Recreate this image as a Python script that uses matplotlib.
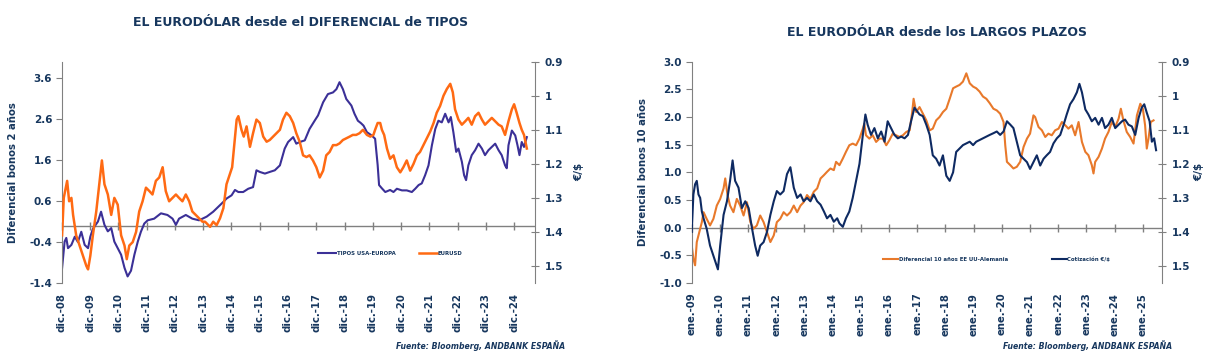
import matplotlib
matplotlib.use("Agg")
import matplotlib.pyplot as plt

plt.rcParams['font.family'] = ['DejaVu Sans']

NAVY = '#17375E'
GRAY = '#808080'

# ---------------- Chart 1 data (decimal years) ----------------
tipos_t = [2008.92, 2009.01, 2009.07, 2009.13, 2009.25, 2009.37, 2009.48, 2009.60, 2009.72, 2009.84,
           2009.92, 2010.01, 2010.19, 2010.30, 2010.42, 2010.54, 2010.66, 2010.77, 2010.89, 2011.01,
           2011.13, 2011.24, 2011.36, 2011.48, 2011.60, 2011.71, 2011.83, 2011.95, 2012.18, 2012.42,
           2012.65, 2012.83, 2012.95, 2013.06, 2013.30, 2013.53, 2013.77, 2014.04, 2014.27, 2014.45,
           2014.63, 2014.74, 2014.92, 2015.04, 2015.16, 2015.33, 2015.51, 2015.68, 2015.80, 2015.92,
           2016.10, 2016.27, 2016.45, 2016.63, 2016.80, 2016.92, 2017.10, 2017.21, 2017.33, 2017.51,
           2017.68, 2017.86, 2017.98, 2018.16, 2018.33, 2018.51, 2018.63, 2018.74, 2018.86, 2018.98,
           2019.16, 2019.27, 2019.39, 2019.50, 2019.59, 2019.71, 2019.88, 2020.00, 2020.09, 2020.14,
           2020.24, 2020.36, 2020.53, 2020.65, 2020.77, 2020.95, 2021.12, 2021.30, 2021.42, 2021.54,
           2021.65, 2021.77, 2021.89, 2022.01, 2022.13, 2022.24, 2022.36, 2022.48, 2022.60, 2022.68,
           2022.77, 2022.87, 2022.95, 2023.07, 2023.15, 2023.22, 2023.30, 2023.42, 2023.54, 2023.66,
           2023.78, 2023.89, 2024.01, 2024.13, 2024.25, 2024.37, 2024.48, 2024.60, 2024.66, 2024.72,
           2024.84, 2024.96, 2025.04, 2025.11, 2025.19, 2025.27, 2025.37]
tipos_v = [-1.04, -0.39, -0.30, -0.55, -0.47, -0.27, -0.40, -0.15, -0.47, -0.55,
           -0.27, -0.08, 0.10, 0.34, 0.02, -0.14, -0.06, -0.39, -0.55, -0.71,
           -1.03, -1.24, -1.10, -0.71, -0.39, -0.15, 0.05, 0.13, 0.17, 0.30,
           0.26, 0.17, 0.02, 0.17, 0.26, 0.17, 0.13, 0.22, 0.34, 0.46,
           0.58, 0.66, 0.74, 0.87, 0.82, 0.82, 0.90, 0.94, 1.35, 1.31,
           1.27, 1.31, 1.35, 1.47, 1.88, 2.04, 2.16, 2.00, 2.04, 2.08,
           2.36, 2.56, 2.69, 3.01, 3.21, 3.25, 3.33, 3.50, 3.33, 3.09,
           2.93, 2.73, 2.56, 2.50, 2.44, 2.28, 2.20, 2.12, 1.48, 0.99,
           0.91, 0.82, 0.87, 0.82, 0.90, 0.86, 0.86, 0.82, 0.90, 0.99,
           1.03, 1.23, 1.47, 1.96, 2.36, 2.56, 2.52, 2.73, 2.52, 2.65,
           2.28, 1.80, 1.88, 1.56, 1.23, 1.11, 1.47, 1.72, 1.84, 2.00,
           1.88, 1.72, 1.84, 1.92, 2.00, 1.84, 1.72, 1.47, 1.40, 1.96,
           2.32, 2.20, 1.96, 1.72, 2.04, 1.92, 2.16]

eurusd1_t = [2008.92, 2008.98, 2009.10, 2009.17, 2009.25, 2009.31, 2009.42, 2009.54, 2009.66, 2009.78,
             2009.84, 2009.92, 2010.01, 2010.13, 2010.25, 2010.33, 2010.42, 2010.54, 2010.66, 2010.77,
             2010.89, 2011.01, 2011.13, 2011.21, 2011.30, 2011.42, 2011.54, 2011.65, 2011.77, 2011.89,
             2012.01, 2012.12, 2012.24, 2012.36, 2012.48, 2012.59, 2012.71, 2012.83, 2012.95, 2013.06,
             2013.18, 2013.30, 2013.42, 2013.53, 2013.65, 2013.77, 2013.89, 2013.98, 2014.16, 2014.27,
             2014.39, 2014.51, 2014.63, 2014.74, 2014.86, 2014.94, 2015.01, 2015.10, 2015.16, 2015.27,
             2015.35, 2015.45, 2015.57, 2015.68, 2015.80, 2015.92, 2016.04, 2016.16, 2016.27, 2016.39,
             2016.51, 2016.63, 2016.74, 2016.86, 2016.98, 2017.10, 2017.21, 2017.33, 2017.45, 2017.57,
             2017.68, 2017.80, 2017.92, 2018.04, 2018.16, 2018.27, 2018.39, 2018.51, 2018.63, 2018.74,
             2018.86, 2018.98, 2019.10, 2019.21, 2019.33, 2019.45, 2019.57, 2019.71, 2019.83, 2019.94,
             2020.00, 2020.09, 2020.18, 2020.24, 2020.32, 2020.42, 2020.53, 2020.65, 2020.77, 2020.89,
             2021.00, 2021.12, 2021.24, 2021.36, 2021.48, 2021.59, 2021.71, 2021.83, 2021.95, 2022.07,
             2022.18, 2022.30, 2022.42, 2022.54, 2022.66, 2022.75, 2022.83, 2022.95, 2023.07, 2023.19,
             2023.30, 2023.42, 2023.54, 2023.66, 2023.78, 2023.89, 2024.01, 2024.13, 2024.25, 2024.37,
             2024.48, 2024.60, 2024.72, 2024.84, 2024.92, 2025.01, 2025.11, 2025.19, 2025.27, 2025.37]
eurusd1_v = [1.41, 1.30, 1.25, 1.31, 1.30, 1.35, 1.41, 1.44, 1.47, 1.50,
             1.51, 1.47, 1.41, 1.34, 1.25, 1.19, 1.26, 1.29, 1.35, 1.30,
             1.32, 1.41, 1.44, 1.48, 1.44, 1.43, 1.40, 1.34, 1.31, 1.27,
             1.28, 1.29, 1.25, 1.24, 1.21, 1.28, 1.31, 1.30, 1.29, 1.30,
             1.31, 1.29, 1.31, 1.34, 1.35, 1.36, 1.37, 1.37, 1.385, 1.37,
             1.38, 1.36, 1.33, 1.26, 1.23, 1.21, 1.15, 1.07, 1.06, 1.10,
             1.12, 1.09, 1.15, 1.11, 1.07, 1.08, 1.12, 1.135, 1.13, 1.12,
             1.11, 1.10, 1.07, 1.05, 1.06, 1.08, 1.11, 1.135, 1.175, 1.18,
             1.175, 1.19, 1.21, 1.24, 1.22, 1.175, 1.165, 1.145, 1.145, 1.14,
             1.13, 1.125, 1.12, 1.115, 1.115, 1.11, 1.10, 1.115, 1.12, 1.115,
             1.10, 1.08, 1.08, 1.10, 1.115, 1.155, 1.185, 1.175, 1.21, 1.225,
             1.21, 1.19, 1.22, 1.20, 1.175, 1.165, 1.145, 1.125, 1.105, 1.08,
             1.05, 1.03, 1.00, 0.98, 0.965, 0.99, 1.04, 1.07, 1.085, 1.075,
             1.065, 1.085, 1.06, 1.05, 1.07, 1.085, 1.075, 1.065, 1.075, 1.085,
             1.09, 1.115, 1.075, 1.04, 1.025, 1.05, 1.08, 1.10, 1.115, 1.155]

# ---------------- Chart 2 data (decimal years) ----------------
dif10_t = [2009.00, 2009.06, 2009.12, 2009.18, 2009.30, 2009.36, 2009.42, 2009.53, 2009.65, 2009.77,
           2009.89, 2010.01, 2010.13, 2010.19, 2010.27, 2010.36, 2010.48, 2010.60, 2010.72, 2010.84,
           2010.96, 2011.08, 2011.19, 2011.31, 2011.43, 2011.55, 2011.67, 2011.79, 2011.91, 2012.02,
           2012.14, 2012.26, 2012.38, 2012.50, 2012.62, 2012.74, 2012.86, 2012.97, 2013.09, 2013.21,
           2013.33, 2013.45, 2013.57, 2013.69, 2013.80, 2013.92, 2014.04, 2014.12, 2014.24, 2014.36,
           2014.47, 2014.59, 2014.71, 2014.83, 2014.95, 2015.07, 2015.12, 2015.18, 2015.30, 2015.42,
           2015.54, 2015.66, 2015.78, 2015.90, 2016.01, 2016.13, 2016.25, 2016.37, 2016.49, 2016.61,
           2016.73, 2016.82, 2016.87, 2016.96, 2017.08, 2017.20, 2017.32, 2017.44, 2017.55, 2017.67,
           2017.79, 2017.91, 2018.03, 2018.15, 2018.27, 2018.38, 2018.50, 2018.62, 2018.74, 2018.86,
           2018.98, 2019.09, 2019.21, 2019.33, 2019.45, 2019.57, 2019.70, 2019.82, 2019.94, 2020.06,
           2020.12, 2020.18, 2020.30, 2020.41, 2020.53, 2020.65, 2020.77, 2020.89, 2021.00, 2021.12,
           2021.18, 2021.30, 2021.42, 2021.54, 2021.65, 2021.77, 2021.89, 2022.01, 2022.13, 2022.25,
           2022.36, 2022.48, 2022.60, 2022.72, 2022.84, 2022.96, 2023.07, 2023.19, 2023.25, 2023.31,
           2023.43, 2023.55, 2023.66, 2023.78, 2023.90, 2024.02, 2024.14, 2024.22, 2024.31, 2024.43,
           2024.55, 2024.67, 2024.79, 2024.91, 2025.00, 2025.08, 2025.14, 2025.20, 2025.28, 2025.38]
dif10_v = [-0.32, -0.56, -0.68, -0.26, -0.02, 0.10, 0.28, 0.16, 0.04, 0.16,
           0.40, 0.52, 0.71, 0.89, 0.59, 0.40, 0.28, 0.52, 0.40, 0.22,
           0.46, 0.10, -0.02, 0.04, 0.22, 0.10, -0.08, -0.26, -0.14, 0.10,
           0.16, 0.28, 0.22, 0.28, 0.40, 0.28, 0.40, 0.46, 0.59, 0.52,
           0.65, 0.71, 0.89, 0.95, 1.01, 1.07, 1.04, 1.19, 1.13, 1.25,
           1.37, 1.49, 1.52, 1.49, 1.61, 1.79, 1.88, 1.67, 1.61, 1.67,
           1.55, 1.61, 1.61, 1.49, 1.58, 1.70, 1.67, 1.64, 1.67, 1.73,
           1.76, 2.09, 2.33, 2.09, 2.18, 2.06, 1.94, 1.76, 1.79, 1.94,
           2.00, 2.09, 2.15, 2.33, 2.52, 2.55, 2.58, 2.64, 2.79, 2.61,
           2.55, 2.52, 2.46, 2.37, 2.33, 2.25, 2.15, 2.12, 2.06, 1.91,
           1.49, 1.19, 1.13, 1.07, 1.10, 1.19, 1.46, 1.61, 1.70, 2.03,
           2.00, 1.82, 1.76, 1.64, 1.70, 1.67, 1.76, 1.79, 1.91, 1.85,
           1.79, 1.85, 1.67, 1.91, 1.55, 1.37, 1.31, 1.13, 0.98, 1.19,
           1.28, 1.43, 1.61, 1.73, 1.91, 1.82, 1.97, 2.15, 1.94, 1.73,
           1.64, 1.52, 2.03, 2.24, 2.15, 1.85, 1.43, 1.61, 1.91, 1.94]

cotiz_t = [2009.00, 2009.06, 2009.12, 2009.18, 2009.24, 2009.30, 2009.36, 2009.42, 2009.53, 2009.65,
           2009.77, 2009.89, 2009.93, 2010.01, 2010.13, 2010.25, 2010.36, 2010.45, 2010.54, 2010.66,
           2010.78, 2010.90, 2011.02, 2011.14, 2011.25, 2011.34, 2011.43, 2011.55, 2011.67, 2011.79,
           2011.91, 2012.02, 2012.14, 2012.26, 2012.38, 2012.50, 2012.62, 2012.74, 2012.86, 2012.97,
           2013.09, 2013.21, 2013.33, 2013.45, 2013.57, 2013.69, 2013.80, 2013.92, 2014.04, 2014.16,
           2014.24, 2014.36, 2014.47, 2014.59, 2014.71, 2014.83, 2014.95, 2015.07, 2015.16, 2015.24,
           2015.36, 2015.48, 2015.60, 2015.72, 2015.84, 2015.95, 2016.07, 2016.19, 2016.31, 2016.43,
           2016.55, 2016.67, 2016.78, 2016.90, 2016.99, 2017.08, 2017.20, 2017.32, 2017.44, 2017.55,
           2017.67, 2017.79, 2017.91, 2018.03, 2018.15, 2018.27, 2018.38, 2018.50, 2018.62, 2018.74,
           2018.86, 2018.98, 2019.09, 2019.21, 2019.33, 2019.45, 2019.57, 2019.70, 2019.82, 2019.94,
           2020.06, 2020.18, 2020.30, 2020.41, 2020.53, 2020.65, 2020.77, 2020.89, 2021.00, 2021.12,
           2021.24, 2021.36, 2021.48, 2021.59, 2021.71, 2021.83, 2021.95, 2022.07, 2022.19, 2022.30,
           2022.42, 2022.54, 2022.66, 2022.75, 2022.84, 2022.96, 2023.07, 2023.19, 2023.31, 2023.43,
           2023.55, 2023.66, 2023.78, 2023.90, 2024.02, 2024.14, 2024.26, 2024.37, 2024.49, 2024.61,
           2024.73, 2024.85, 2024.96, 2025.05, 2025.14, 2025.24, 2025.32, 2025.40, 2025.47]
cotiz_v = [1.40, 1.29, 1.26, 1.25, 1.29, 1.30, 1.34, 1.36, 1.39, 1.44,
           1.47, 1.50, 1.51, 1.44, 1.35, 1.31, 1.25, 1.19, 1.25, 1.27,
           1.33, 1.31, 1.33, 1.39, 1.44, 1.47, 1.44, 1.43, 1.40, 1.35,
           1.31, 1.28, 1.29, 1.28, 1.23, 1.21, 1.27, 1.30, 1.29, 1.31,
           1.30, 1.31, 1.29, 1.31, 1.32, 1.34, 1.36, 1.35, 1.37, 1.36,
           1.375, 1.385, 1.36, 1.34, 1.30, 1.25, 1.20, 1.115, 1.055, 1.085,
           1.115, 1.095, 1.125, 1.105, 1.135, 1.075, 1.095, 1.115, 1.125, 1.12,
           1.125, 1.115, 1.075, 1.035, 1.045, 1.055, 1.06, 1.085, 1.115, 1.175,
           1.185, 1.205, 1.175, 1.235, 1.25, 1.225, 1.165, 1.155, 1.145, 1.14,
           1.135, 1.145, 1.135, 1.13, 1.125, 1.12, 1.115, 1.11, 1.105, 1.115,
           1.105, 1.075, 1.085, 1.095, 1.135, 1.175, 1.185, 1.195, 1.215, 1.195,
           1.175, 1.205, 1.185, 1.175, 1.165, 1.14, 1.125, 1.115, 1.085, 1.055,
           1.025, 1.01, 0.99, 0.965, 0.99, 1.04, 1.055, 1.075, 1.065, 1.085,
           1.065, 1.095, 1.085, 1.065, 1.095, 1.085, 1.075, 1.07, 1.085, 1.09,
           1.115, 1.065, 1.035, 1.025, 1.05, 1.075, 1.135, 1.125, 1.16]

# ---------------- axis categories ----------------
years = list(range(2008, 2025))
labels1 = ['dic.-%02d' % (y % 100) for y in years]
ticks1 = [y + 11 / 12 for y in years]
labels2 = ['ene.-%02d' % ((y + 1) % 100) for y in years]
ticks2 = [y + 1.0 for y in years]

left1_ticks = [-1.4, -0.4, 0.6, 1.6, 2.6, 3.6]
left2_ticks = [-1.0, -0.5, 0.0, 0.5, 1.0, 1.5, 2.0, 2.5, 3.0]
right_ticks = [0.9, 1.0, 1.1, 1.2, 1.3, 1.4, 1.5]
right_labels = ['0.9', '1', '1.1', '1.2', '1.3', '1.4', '1.5']

fig = plt.figure(figsize=(12.08, 3.53), dpi=100)


def setup(ax, ax2, ylim, yticks, xt, xl, xlim, ylabel, rpad):
    ax.set_xlim(*xlim)
    ax.set_ylim(*ylim)
    ax2.set_ylim(1.55, 0.9)
    for a in (ax, ax2):
        for s in ('top', 'bottom'):
            a.spines[s].set_visible(False)
    ax2.spines['left'].set_visible(False)
    ax.spines['left'].set_color(GRAY)
    ax2.spines['right'].set_color(GRAY)
    ax.spines['right'].set_visible(False)
    ax.set_yticks(yticks)
    ax.set_yticklabels(['%.1f' % v for v in yticks])
    ax.tick_params(axis='y', direction='out', length=4, color=GRAY, labelsize=7.5,
                   labelcolor=NAVY, pad=3)
    ax2.set_yticks(right_ticks)
    ax2.set_yticklabels(right_labels)
    ax2.tick_params(axis='y', direction='inout', length=6, color=GRAY, labelsize=7.5,
                    labelcolor=NAVY, pad=4)
    for lab in ax.get_yticklabels() + ax2.get_yticklabels():
        lab.set_fontweight('bold')
    ax.set_xticks(xt)
    ax.set_xticklabels(xl, rotation=90, fontsize=7.3, fontweight='bold', color=NAVY)
    ax.tick_params(axis='x', length=0, pad=7)
    ax.axhline(0, color=GRAY, lw=1.0, zorder=1)
    zero_frac = (0 - ylim[0]) / (ylim[1] - ylim[0])
    sec = ax.secondary_xaxis(zero_frac)
    sec.set_xticks(xt)
    sec.set_xticklabels([])
    sec.tick_params(axis='x', direction='inout', length=6, color=GRAY, width=1)
    sec.spines['bottom'].set_visible(False)
    sec.spines['top'].set_visible(False)
    ax.set_ylabel(ylabel, fontsize=7.3, fontweight='bold', color=NAVY, labelpad=8)
    ax2.set_ylabel('€/$', fontsize=7.5, fontweight='bold', color=NAVY, labelpad=rpad)


LEG_PROP = {'size': 3.9, 'weight': 'bold'}

# ---- Chart 1 ----
ax1 = fig.add_axes([0.0513, 0.1983, 0.3916, 0.6269])
ax1b = ax1.twinx()
l1, = ax1.plot(tipos_t, tipos_v, color='#3B3097', lw=1.5, label='TIPOS USA-EUROPA', zorder=2)
l2, = ax1b.plot(eurusd1_t, eurusd1_v, color='#FF6A13', lw=1.8, label='EURUSD')
setup(ax1, ax1b, (-1.4, 4.0), left1_ticks, ticks1, labels1, (2008.92, 2025.66),
      'Diferencial bonos 2 años', 8)
fig.text(0.249, 0.937, 'EL EURODÓLAR desde el DIFERENCIAL de TIPOS', ha='center', va='center',
         fontsize=9, fontweight='bold', color=NAVY)
fig.legend(handles=[l1, l2], loc='center', bbox_to_anchor=(0.323, 0.283), ncol=2, frameon=False,
           handlelength=3.4, handletextpad=0.1, columnspacing=4.3,
           prop=LEG_PROP, labelcolor=NAVY)
fig.text(0.468, 0.022, 'Fuente: Bloomberg, ANDBANK ESPAÑA', ha='right', va='center',
         fontsize=5.6, fontweight='bold', fontstyle='italic', color=NAVY)

# ---- Chart 2 ----
ax2 = fig.add_axes([0.5726, 0.1983, 0.3891, 0.6269])
ax2b = ax2.twinx()
m1, = ax2.plot(dif10_t, dif10_v, color='#E8792B', lw=1.5, label='Diferencial 10 años EE UU-Alemania',
               zorder=2)
m2, = ax2b.plot(cotiz_t, cotiz_v, color='#0E2A62', lw=1.5, label='Cotización €/$')
setup(ax2, ax2b, (-1.0, 3.0), left2_ticks, ticks2, labels2, (2009.0, 2025.67),
      'Diferencial bonos 10 años', 3)
fig.text(0.776, 0.909, 'EL EURODÓLAR desde los LARGOS PLAZOS', ha='center', va='center',
         fontsize=9, fontweight='bold', color=NAVY)
fig.legend(handles=[m1, m2], loc='center', bbox_to_anchor=(0.825, 0.266), ncol=2, frameon=False,
           handlelength=2.8, handletextpad=0.1, columnspacing=8.1,
           prop=LEG_PROP, labelcolor=NAVY)
fig.text(0.970, 0.022, 'Fuente: Bloomberg, ANDBANK ESPAÑA', ha='right', va='center',
         fontsize=5.6, fontweight='bold', fontstyle='italic', color=NAVY)

fig.savefig('out.png', dpi=100, facecolor='white')
